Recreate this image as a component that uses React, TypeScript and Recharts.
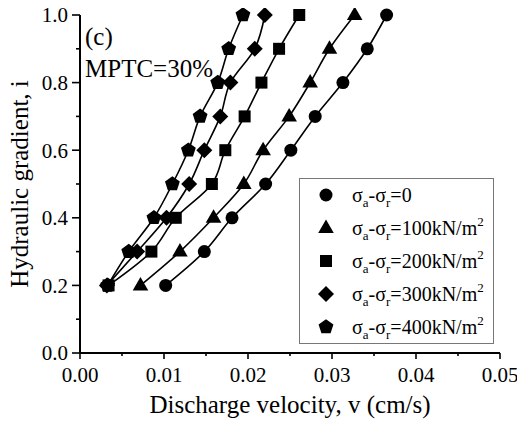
import React from "react";
import { LineChart, Line, XAxis, YAxis, CartesianGrid } from "recharts";

// ---- data (discharge velocity v in cm/s, hydraulic gradient i) ----
const gradients = [0.2, 0.3, 0.4, 0.5, 0.6, 0.7, 0.8, 0.9, 1.0];
const v0 = [0.0102, 0.0148, 0.0181, 0.0221, 0.0251, 0.028, 0.0313, 0.0342, 0.0365];
const v100 = [0.0072, 0.0119, 0.0159, 0.0195, 0.0218, 0.0249, 0.0274, 0.0297, 0.0327];
const v200 = [0.0034, 0.0085, 0.0114, 0.0157, 0.0173, 0.0196, 0.0216, 0.0237, 0.0261];
const v300 = [0.0032, 0.0068, 0.0103, 0.013, 0.0148, 0.0167, 0.0179, 0.0208, 0.022];
const v400 = [0.0033, 0.0058, 0.0088, 0.011, 0.0129, 0.0143, 0.0164, 0.0177, 0.0194];
const seriesStress = ["0", "100", "200", "300", "400"];
const seriesShapes = ["circle", "triangle", "square", "diamond", "pentagon"];

const xTicks = [0, 0.005, 0.01, 0.015, 0.02, 0.025, 0.03, 0.035, 0.04, 0.045, 0.05];
const xMajor = [0, 0.01, 0.02, 0.03, 0.04, 0.05];
const yTicks = [0, 0.1, 0.2, 0.3, 0.4, 0.5, 0.6, 0.7, 0.8, 0.9, 1.0];
const yMajor = [0, 0.2, 0.4, 0.6, 0.8, 1.0];

const xTitle = "Discharge velocity, v (cm/s)";
const yTitle = "Hydraulic gradient, i";
const panelLabel = "(c)";
const panelNote = "MPTC=30%";

// ---- layout (page coordinates: wrapper cancels the body margin) ----
const W = 525;
const H = 432;
const M = { top: 15, right: 25, left: 0, bottom: 0 };
const Y_W = 80;
const X_H = 79;
const FONT = "Liberation Serif";
const X_GAP = 14;
const Y_GAP = 12;

const build = (vs: number[]) => vs.map((v, k) => ({ v, i: gradients[k] }));
const seriesData = [v0, v100, v200, v300, v400].map(build);

const Marker = ({ shape, cx, cy }: { shape: string; cx: number; cy: number }) => {
  const f = "#000";
  if (shape === "circle") return <circle cx={cx} cy={cy} r={6.5} fill={f} />;
  if (shape === "square") return <rect x={cx - 6} y={cy - 6} width={12} height={12} fill={f} />;
  if (shape === "triangle")
    return <path d={`M${cx},${cy - 8.5}L${cx + 7.8},${cy + 5}L${cx - 7.8},${cy + 5}Z`} fill={f} />;
  if (shape === "diamond")
    return <path d={`M${cx},${cy - 8}L${cx + 8},${cy}L${cx},${cy + 8}L${cx - 8},${cy}Z`} fill={f} />;
  const pts: string[] = [];
  for (let k = 0; k < 5; k++) {
    const a = -Math.PI / 2 + (k * 2 * Math.PI) / 5;
    pts.push(`${cx + 7.8 * Math.cos(a)},${cy + 7.8 * Math.sin(a)}`);
  }
  return <polygon points={pts.join(" ")} fill={f} />;
};

const isMajor = (v: number, majors: number[]) => majors.some((m) => Math.abs(m - v) < 1e-9);

const XTick = (p: any) => {
  const { x, y, payload } = p;
  const v = payload.value;
  const major = isMajor(v, xMajor);
  const ay = y - X_GAP;
  return (
    <g>
      <line x1={x} x2={x} y1={ay} y2={ay + (major ? 6 : 3)} stroke="#000" strokeWidth={1.6} />
      {major && (
        <text x={x} y={y} dy="0.71em" textAnchor="middle" fontSize={21} fontFamily={FONT} fill="#000">
          {v.toFixed(2)}
        </text>
      )}
    </g>
  );
};

const YTick = (p: any) => {
  const { x, y, payload } = p;
  const v = payload.value;
  const major = isMajor(v, yMajor);
  const ax = x + Y_GAP;
  return (
    <g>
      <line x1={ax} x2={ax - (major ? 8 : 4)} y1={y} y2={y} stroke="#000" strokeWidth={1.6} />
      {major && (
        <text x={x} y={y} dy="0.355em" textAnchor="end" fontSize={21} fontFamily={FONT} fill="#000">
          {v.toFixed(1)}
        </text>
      )}
    </g>
  );
};

const LegendLabel = ({ stress }: { stress: string }) => {
  const sub = { fontSize: 13, verticalAlign: "-5px", lineHeight: 0 } as React.CSSProperties;
  const sup = { fontSize: 13, verticalAlign: "9px", lineHeight: 0 } as React.CSSProperties;
  return (
    <span>
      σ<span style={sub}>a</span>-σ<span style={sub}>r</span>={stress}
      {stress !== "0" && (
        <>
          kN/m<span style={sup}>2</span>
        </>
      )}
    </span>
  );
};

export default function App() {
  const plotLeft = M.left + Y_W;
  const plotRight = W - M.right;
  const plotTop = M.top;
  const plotBottom = H - M.bottom - X_H;
  const yMid = (plotTop + plotBottom) / 2;
  return (
    <div style={{ position: "relative", width: W, height: H, margin: -8, fontFamily: FONT }}>
      <LineChart width={W} height={H} margin={M}>
        <CartesianGrid
          stroke="#c8c8c8"
          strokeDasharray="2 2"
          verticalValues={xMajor}
          horizontalValues={yMajor}
        />
        <XAxis
          xAxisId="b"
          type="number"
          dataKey="v"
          domain={[0, 0.05]}
          ticks={xTicks}
          interval={0}
          height={X_H}
          tickSize={0}
          tickMargin={X_GAP}
          tick={XTick}
          tickLine={false}
          axisLine={{ stroke: "#000", strokeWidth: 2 }}
          allowDataOverflow
        />
        <XAxis
          xAxisId="t"
          orientation="top"
          type="number"
          dataKey="v"
          domain={[0, 0.05]}
          height={0}
          tick={false}
          tickLine={false}
          axisLine={{ stroke: "#000", strokeWidth: 2 }}
        />
        <YAxis
          yAxisId="l"
          type="number"
          dataKey="i"
          domain={[0, 1]}
          ticks={yTicks}
          interval={0}
          width={Y_W}
          tickSize={0}
          tickMargin={Y_GAP}
          tick={YTick}
          tickLine={false}
          axisLine={{ stroke: "#000", strokeWidth: 2 }}
        />
        <YAxis
          yAxisId="r"
          orientation="right"
          type="number"
          dataKey="i"
          domain={[0, 1]}
          width={0}
          tick={false}
          tickLine={false}
          axisLine={{ stroke: "#000", strokeWidth: 2 }}
        />
        {seriesData.map((d, k) => (
          <Line
            key={seriesStress[k]}
            xAxisId="b"
            yAxisId="l"
            data={d}
            dataKey="i"
            type="monotoneY"
            stroke="#000"
            strokeWidth={1.6}
            isAnimationActive={false}
            dot={(p: any) => (
              <Marker key={`${k}-${p.index}`} shape={seriesShapes[k]} cx={p.cx} cy={p.cy} />
            )}
            activeDot={false}
          />
        ))}
      </LineChart>
      <svg
        width={W}
        height={H}
        style={{ position: "absolute", left: 0, top: 0, pointerEvents: "none" }}
      >
        <text x={plotLeft + 5} y={plotTop + 30} fontSize={25} fontFamily={FONT} fill="#000">
          {panelLabel}
        </text>
        <text x={plotLeft + 5} y={plotTop + 62} fontSize={25} fontFamily={FONT} fill="#000">
          {panelNote}
        </text>
        <text
          x={(plotLeft + plotRight) / 2}
          y={plotBottom + 60}
          textAnchor="middle"
          fontSize={25}
          fontFamily={FONT}
          fill="#000"
        >
          {xTitle}
        </text>
        <text
          x={28}
          y={yMid}
          textAnchor="middle"
          fontSize={25}
          fontFamily={FONT}
          fill="#000"
          transform={`rotate(-90, 28, ${yMid})`}
        >
          {yTitle}
        </text>
      </svg>
      <div
        style={{
          position: "absolute",
          left: 299,
          top: 178,
          width: 195,
          height: 166,
          boxSizing: "border-box",
          border: "1.5px solid #777",
          background: "#fff",
          fontSize: 20,
          color: "#000",
        }}
      >
        {seriesStress.map((s, k) => (
          <div key={s} style={{ position: "relative", height: 33 }}>
            <svg width={20} height={20} style={{ position: "absolute", left: 16, top: 6 }}>
              <Marker shape={seriesShapes[k]} cx={10} cy={10} />
            </svg>
            <div
              style={{
                position: "absolute",
                left: 52,
                top: 3,
                lineHeight: "26px",
                whiteSpace: "nowrap",
              }}
            >
              <LegendLabel stress={s} />
            </div>
          </div>
        ))}
      </div>
    </div>
  );
}
